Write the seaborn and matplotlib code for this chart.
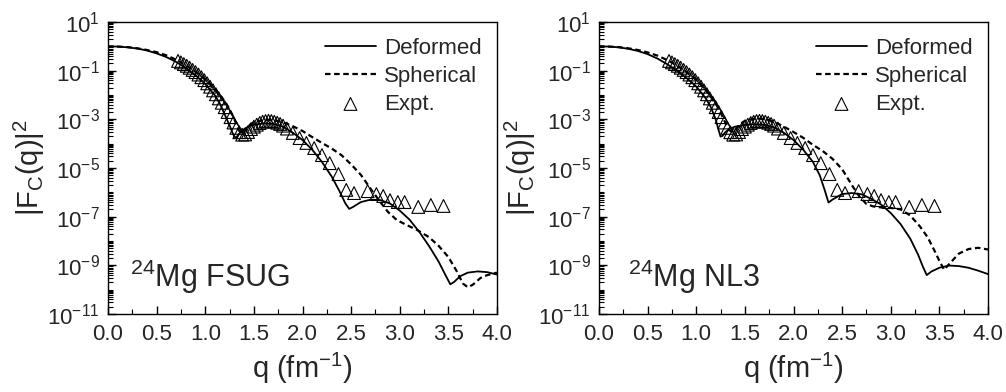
import numpy as np
import pandas as pd
import matplotlib
matplotlib.use("Agg")
import matplotlib.pyplot as plt
import seaborn as sns
from matplotlib.ticker import (MultipleLocator, FixedLocator, LogLocator, LogFormatterMathtext,
                               FormatStrFormatter, NullFormatter)

# ---------------- data (log10 of |F_C(q)|^2) ----------------
fsug_def_q = [0.0, 0.1, 0.2, 0.3, 0.4, 0.5, 0.6, 0.7, 0.8, 0.9, 1.0, 1.1, 1.15, 1.2, 1.25, 1.28, 1.30, 1.32,
              1.35, 1.40, 1.45, 1.50, 1.60, 1.70, 1.80, 1.90, 2.00, 2.10, 2.20, 2.30, 2.38, 2.44, 2.48, 2.52,
              2.60, 2.70, 2.80, 2.90, 3.00, 3.10, 3.20, 3.30, 3.40, 3.47, 3.52, 3.56, 3.62, 3.70, 3.80, 3.90, 4.00]
fsug_def_log = [0.00, -0.01, -0.04, -0.09, -0.17, -0.29, -0.44, -0.64, -0.89, -1.19, -1.55, -2.02, -2.35, -2.80,
                -3.25, -3.55, -3.72, -3.74, -3.58, -3.40, -3.28, -3.22, -3.17, -3.19, -3.30, -3.55, -3.85, -4.25,
                -4.75, -5.35, -5.95, -6.45, -6.68, -6.60, -6.40, -6.30, -6.32, -6.46, -6.75, -7.12, -7.62, -8.20,
                -8.85, -9.40, -9.78, -9.68, -9.45, -9.30, -9.25, -9.28, -9.38]

fsug_sph_q = [0.0, 0.1, 0.2, 0.3, 0.4, 0.5, 0.6, 0.7, 0.8, 0.9, 1.0, 1.1, 1.2, 1.25, 1.30, 1.34, 1.37, 1.40,
              1.45, 1.50, 1.60, 1.70, 1.80, 1.90, 2.00, 2.10, 2.20, 2.30, 2.40, 2.50, 2.60, 2.70, 2.80, 2.88,
              2.97, 3.07, 3.18, 3.30, 3.40, 3.50, 3.58, 3.65, 3.70, 3.75, 3.83, 3.90, 4.00]
fsug_sph_log = [0.00, -0.01, -0.03, -0.08, -0.15, -0.24, -0.37, -0.55, -0.77, -1.04, -1.36, -1.75, -2.25, -2.58,
                -3.00, -3.42, -3.58, -3.48, -3.25, -3.12, -3.03, -3.03, -3.12, -3.28, -3.48, -3.73, -3.97, -4.20,
                -4.47, -4.85, -5.28, -5.85, -6.40, -6.81, -7.14, -7.34, -7.55, -7.84, -8.20, -8.66, -9.20, -9.75,
                -9.90, -9.80, -9.52, -9.40, -9.30]

nl3_def_q = [0.0, 0.1, 0.2, 0.3, 0.4, 0.5, 0.6, 0.7, 0.8, 0.9, 1.0, 1.1, 1.15, 1.20, 1.23, 1.25, 1.27, 1.30,
             1.35, 1.40, 1.50, 1.60, 1.70, 1.80, 1.90, 2.00, 2.10, 2.20, 2.27, 2.32, 2.36, 2.40, 2.50, 2.60,
             2.70, 2.80, 2.90, 3.00, 3.10, 3.20, 3.28, 3.33, 3.37, 3.42, 3.50, 3.60, 3.70, 3.80, 3.90, 4.00]
nl3_def_log = [0.00, -0.01, -0.04, -0.10, -0.19, -0.32, -0.50, -0.73, -1.00, -1.30, -1.65, -2.15, -2.50, -3.00,
               -3.45, -3.71, -3.68, -3.52, -3.38, -3.30, -3.23, -3.20, -3.22, -3.33, -3.55, -3.85, -4.25, -4.75,
               -5.30, -5.90, -6.42, -6.30, -6.07, -6.03, -6.08, -6.27, -6.50, -6.85, -7.30, -7.90, -8.55, -9.05,
               -9.40, -9.25, -9.10, -9.01, -9.03, -9.10, -9.22, -9.36]

nl3_sph_q = [0.0, 0.1, 0.2, 0.3, 0.4, 0.5, 0.6, 0.7, 0.8, 0.9, 1.0, 1.1, 1.2, 1.25, 1.30, 1.34, 1.37, 1.40,
             1.45, 1.50, 1.60, 1.70, 1.80, 1.90, 2.00, 2.10, 2.20, 2.30, 2.40, 2.50, 2.60, 2.68, 2.75, 2.82,
             2.90, 3.00, 3.10, 3.20, 3.30, 3.38, 3.45, 3.51, 3.55, 3.60, 3.70, 3.80, 3.90, 4.00]
nl3_sph_log = [0.00, -0.01, -0.03, -0.08, -0.15, -0.25, -0.38, -0.56, -0.78, -1.06, -1.38, -1.80, -2.35, -2.72,
               -3.15, -3.45, -3.52, -3.42, -3.20, -3.06, -2.97, -2.98, -3.10, -3.30, -3.52, -3.76, -4.05, -4.30,
               -4.62, -5.05, -5.70, -6.19, -6.48, -6.58, -6.62, -6.64, -6.70, -6.95, -7.40, -7.85, -8.40, -8.90,
               -9.18, -8.95, -8.52, -8.33, -8.28, -8.35]

expt_q = [0.72, 0.75, 0.78, 0.81, 0.84, 0.87, 0.90, 0.93, 0.96, 0.99, 1.02, 1.05, 1.08, 1.11, 1.14, 1.17, 1.20,
          1.23, 1.26, 1.29, 1.32, 1.35, 1.38, 1.41, 1.44, 1.47, 1.50, 1.53, 1.56, 1.59, 1.62, 1.65, 1.68, 1.71,
          1.74, 1.77, 1.80, 1.84, 1.90, 1.97, 2.04, 2.12, 2.20, 2.28, 2.37, 2.45, 2.53, 2.67, 2.76, 2.83, 2.90,
          2.98, 3.05, 3.19, 3.32, 3.45]
expt_log = [-0.60, -0.66, -0.73, -0.80, -0.88, -0.97, -1.06, -1.16, -1.27, -1.39, -1.52, -1.66, -1.81, -1.97,
            -2.14, -2.32, -2.50, -2.70, -2.91, -3.13, -3.35, -3.53, -3.63, -3.62, -3.52, -3.40, -3.30, -3.22,
            -3.15, -3.10, -3.07, -3.06, -3.07, -3.10, -3.14, -3.19, -3.26, -3.38, -3.56, -3.77, -3.97, -4.18,
            -4.47, -4.80, -5.25, -5.90, -6.03, -5.95, -6.07, -6.15, -6.32, -6.40, -6.40, -6.60, -6.52, -6.56]

panels = [
    ("FSUG", fsug_def_q, fsug_def_log, fsug_sph_q, fsug_sph_log),
    ("NL3", nl3_def_q, nl3_def_log, nl3_sph_q, nl3_sph_log),
]

# ---------------- style ----------------
sns.set_theme(style="ticks")
plt.rcParams["font.family"] = ["Liberation Sans", "DejaVu Sans"]
plt.rcParams["mathtext.default"] = "regular"
plt.rcParams["axes.linewidth"] = 1.0

fig = plt.figure(figsize=(10.06, 3.92), dpi=100)
axes_rects = [[108 / 1006, 78 / 392, 389 / 1006, 292 / 392],
              [599 / 1006, 78 / 392, 389 / 1006, 292 / 392]]
text_x = [0.057, 0.075]

expt_df = pd.DataFrame({"q": expt_q, "F": np.power(10.0, expt_log)})

for i, (name, dq, dl, sq, sl) in enumerate(panels):
    ax = fig.add_axes(axes_rects[i])
    ddf = pd.DataFrame({"q": dq, "F": np.power(10.0, dl)})
    sdf = pd.DataFrame({"q": sq, "F": np.power(10.0, sl)})
    sns.lineplot(data=ddf, x="q", y="F", ax=ax, color="black", lw=1.3, sort=False,
                 estimator=None, label="Deformed")
    sns.lineplot(data=sdf, x="q", y="F", ax=ax, color="black", lw=1.6, sort=False,
                 estimator=None, label="Spherical", linestyle=(0, (2.5, 1.6)))
    sns.scatterplot(data=expt_df, x="q", y="F", ax=ax, marker="^", s=85,
                    facecolor="none", edgecolor="black", linewidth=0.8, label="Expt.", zorder=3)
    ax.set_yscale("log")
    ax.set_xlim(0, 4.0)
    ax.set_ylim(1e-11, 1e1)
    ax.xaxis.set_major_locator(MultipleLocator(0.5))
    ax.xaxis.set_minor_locator(MultipleLocator(0.25))
    ax.xaxis.set_major_formatter(FormatStrFormatter("%.1f"))
    ax.yaxis.set_major_locator(FixedLocator([10.0 ** k for k in range(1, -12, -2)]))
    ax.yaxis.set_major_formatter(LogFormatterMathtext())
    ax.yaxis.set_minor_locator(LogLocator(base=10, subs=np.arange(1, 10), numticks=40))
    ax.yaxis.set_minor_formatter(NullFormatter())
    ax.tick_params(which="both", direction="in", top=False, right=False, labelsize=16, color="black")
    ax.tick_params(which="major", length=6, width=1.0)
    ax.tick_params(which="minor", length=3.5, width=0.8)
    ax.tick_params(axis="x", pad=7.5)
    ax.tick_params(axis="y", pad=6)
    for sp in ax.spines.values():
        sp.set_visible(True)
        sp.set_color("black")
    ax.set_xlabel(r"q (fm$^{-1}$)", fontsize=21, labelpad=4)
    ax.set_ylabel(r"$|F_C(q)|^2$", fontsize=21, labelpad=0)
    ax.text(text_x[i], 0.092, r"$^{24}$Mg " + name, transform=ax.transAxes, fontsize=22,
            va="baseline", ha="left")
    leg = ax.legend(loc="upper right", frameon=False, fontsize=16, handlelength=2.3,
                    handletextpad=0.35, labelspacing=0.32, borderaxespad=0.3)

fig.savefig("out.png", dpi=100)
